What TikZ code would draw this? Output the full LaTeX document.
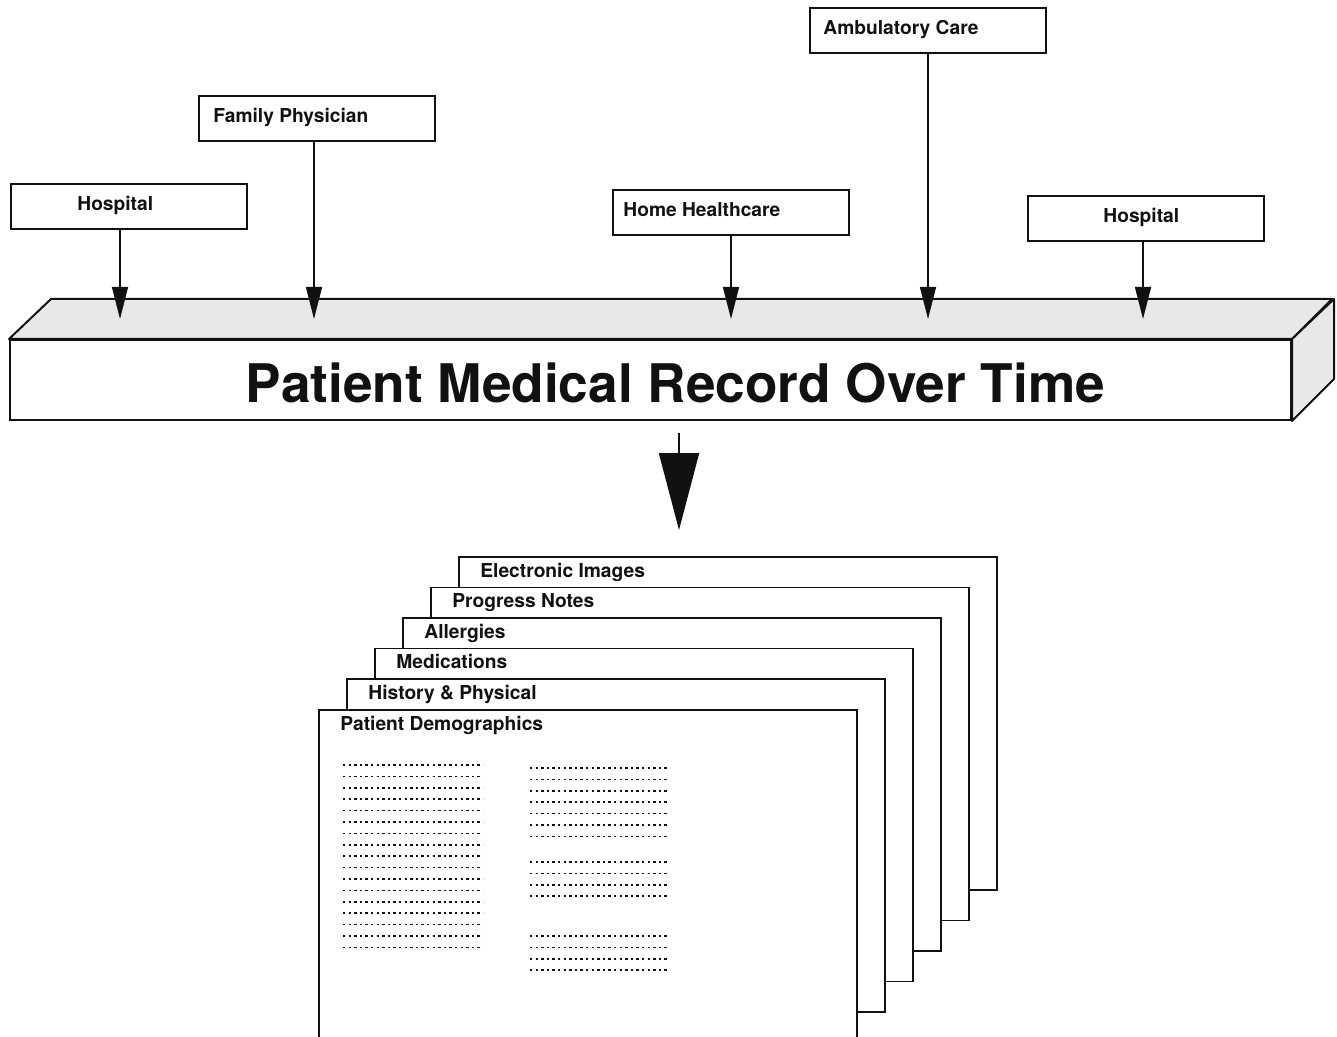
\documentclass[tikz,border=0pt]{standalone}
\usepackage{fontspec}
\setsansfont{TeX Gyre Heros}
\usepackage{tikz}
\usetikzlibrary{positioning,arrows.meta,calc}
\definecolor{ink}{HTML}{111111}
\definecolor{stipple}{HTML}{E8E8E8}
\tikzset{
  tag/.style={font=\sffamily\bfseries\fontsize{9.6}{11}\selectfont, text=ink, inner sep=0pt, anchor=base west},
  feed/.style={-{Triangle[length=16pt, width=8pt]}, line width=0.7pt, ink},
}

\begin{document}
\begin{tikzpicture}[x=0.5pt, y=-0.5pt,
  site/.style={rectangle, draw=ink, line width=0.8pt, minimum width=118pt, minimum height=22.5pt, inner sep=0pt, anchor=north west},
  face/.style={draw=ink, line width=1pt, fill=stipple, line join=round},
  sheet/.style={rectangle, draw=ink, line width=0.8pt, fill=white, minimum width=269pt, minimum height=166.5pt, inner sep=0pt, anchor=north west},
  rule/.style={line width=0.8pt, ink, dash pattern=on 1.2pt off 1.6pt},
  bigarr/.style={-{Triangle[length=38.5pt, width=20pt]}, line width=1pt, ink}]
\useasboundingbox (0,0) rectangle (1337,1037);
% the record bar
\node[draw=ink, line width=1pt, fill=white, minimum width=640.5pt, minimum height=40pt, inner sep=0pt] (rec) at (650.5,380) {};
\filldraw[face] (rec.north west) -- ++(42,-40) -- ++(1281,0) -- (rec.north east) -- cycle;
\filldraw[face] (rec.north east) -- ++(42,-40) -- ++(0,80) -- (rec.south east) -- cycle;
\node[font=\sffamily\bfseries\fontsize{26.6}{30}\selectfont, text=ink, inner sep=0pt] (title) at (675.5,383) {Patient Medical Record Over Time};
% care sites
\node[site] (hospA) at (10,183) {};
\node[site] (famP) at (198,95) {};
\node[site] (homeH) at (612,189) {};
\node[site] (ambC) at (809,7) {};
\node[site] (hospB) at (1027,195) {};
\node[tag] (hospAt) at ([xshift=33.5pt, yshift=-2pt]hospA.west) {Hospital};
\node[tag] (famPt) at ([xshift=7.5pt, yshift=-2pt]famP.west) {Family Physician};
\node[tag] (homeHt) at ([xshift=5.5pt, yshift=-2pt]homeH.west) {Home Healthcare};
\node[tag] (ambCt) at ([xshift=7pt, yshift=-2pt]ambC.west) {Ambulatory Care};
\node[tag] (hospBt) at ([xshift=38pt, yshift=-2pt]hospB.west) {Hospital};
\coordinate (tA) at (120,319);
\coordinate (tF) at (314,319);
\coordinate (tH) at (731,319);
\coordinate (tC) at (928,319);
\coordinate (tB) at (1143,319);
\draw[feed] (hospA.south -| tA) -- (tA);
\draw[feed] (famP.south -| tF) -- (tF);
\draw[feed] (homeH.south -| tH) -- (tH);
\draw[feed] (ambC.south -| tC) -- (tC);
\draw[feed] (hospB.south -| tB) -- (tB);
% record sections
\coordinate (land) at (679,530);
\draw[bigarr] ($(rec.south -| land)+(0,12)$) -- (land);
\foreach \lab/\i in {Electronic Images/5, Progress Notes/4, Allergies/3, Medications/2, History \& Physical/1, Patient Demographics/0}{
  \node[sheet] (pg\i) at (318+28*\i, 709-30.6*\i) {};
  \node[tag] (lab\i) at ([xshift=11pt, yshift=-10.5pt]pg\i.north west) {\lab};
}
% dotted entries
\foreach \k in {0,...,16}
  \draw[rule] (343,765+11.4*\k) -- ++(140,0);
\foreach \y/\n in {768/6, 862/3, 936/3}
  \foreach \k in {0,...,\n}
    \draw[rule] (530,\y+11.4*\k) -- ++(138,0);
\end{tikzpicture}
\end{document}
